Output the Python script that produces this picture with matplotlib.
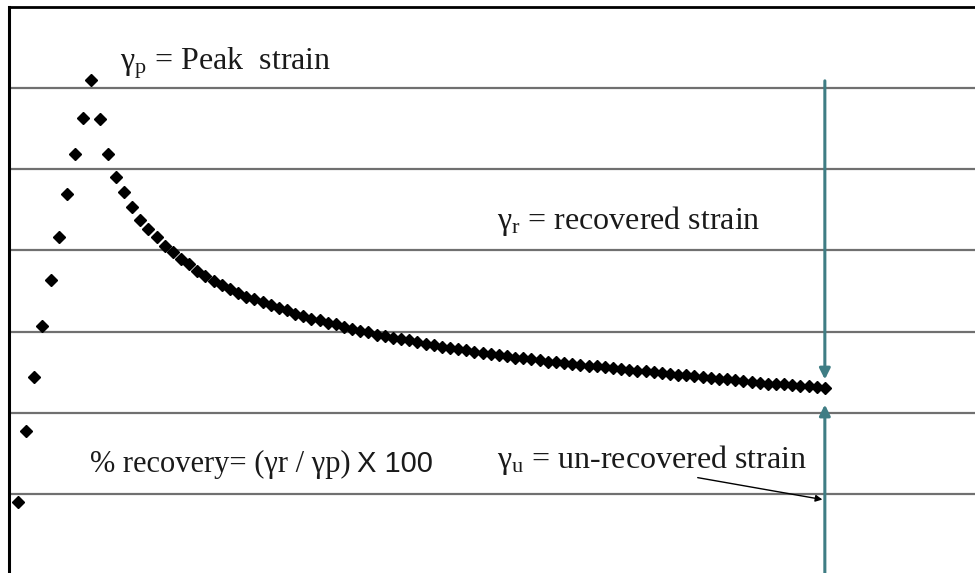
import matplotlib
matplotlib.use("Agg")
import matplotlib.pyplot as plt

plt.rcParams['mathtext.fontset'] = 'custom'
plt.rcParams['mathtext.rm'] = 'Liberation Serif'
plt.rcParams['mathtext.it'] = 'Liberation Serif:italic'

# strain readings, one per time step
strain = [-0.10, 0.77, 1.44, 2.07, 2.64, 3.17, 3.70, 4.19, 4.63, 5.10,
          4.62, 4.19, 3.90, 3.72, 3.54, 3.38, 3.27, 3.16, 3.06, 2.98,
          2.90, 2.83, 2.75, 2.68, 2.62, 2.57, 2.52, 2.48, 2.43, 2.40,
          2.36, 2.33, 2.29, 2.26, 2.22, 2.19, 2.16, 2.14, 2.11, 2.09,
          2.06, 2.03, 2.01, 1.99, 1.96, 1.94, 1.92, 1.91, 1.89, 1.87,
          1.85, 1.83, 1.81, 1.80, 1.78, 1.77, 1.75, 1.74, 1.72, 1.71,
          1.70, 1.68, 1.67, 1.66, 1.65, 1.63, 1.62, 1.61, 1.60, 1.59,
          1.58, 1.57, 1.56, 1.55, 1.54, 1.53, 1.52, 1.51, 1.50, 1.49,
          1.48, 1.47, 1.46, 1.45, 1.44, 1.43, 1.42, 1.41, 1.40, 1.39,
          1.38, 1.37, 1.36, 1.36, 1.35, 1.34, 1.33, 1.33, 1.32, 1.31]
time = list(range(len(strain)))
grid_levels = [0, 1, 2, 3, 4, 5]

teal = '#3f7d84'
serif = 'Liberation Serif'

fig = plt.figure(figsize=(9.75, 5.73), dpi=100)
ax = fig.add_axes([9 / 975, 0, 966 / 975, 566 / 573])

# x: first point at px 18, spacing ~8.15 px; y: grid every 81 px
ax.set_xlim(-(18 - 9) / 8.15, (975 - 18) / 8.15)
ax.set_ylim(-79 / 81, 6.0)

for g in grid_levels:
    ax.axhline(g, color='#707070', lw=1.6, zorder=1)

ax.plot(time, strain, 'D', color='black', markersize=5.8, zorder=3)

# recovered / un-recovered arrows at the last sample
xe = time[-1]
ax.annotate('', xy=(xe, strain[-1] + 0.10), xytext=(xe, 5.09),
            arrowprops=dict(arrowstyle='-|>', color=teal, lw=2.2,
                            mutation_scale=16, shrinkA=0, shrinkB=0))
ax.annotate('', xy=(xe, strain[-1] - 0.21), xytext=(xe, -0.98),
            arrowprops=dict(arrowstyle='-|>', color=teal, lw=2.2,
                            mutation_scale=16, shrinkA=0, shrinkB=0))
ax.annotate('', xy=(xe - 0.3, -0.07), xytext=(83.4, 0.20),
            arrowprops=dict(arrowstyle='-|>', color='black', lw=1.0,
                            mutation_scale=10, shrinkA=0, shrinkB=0))

fs = 23
tc = '#1a1a1a'
ax.text(12.5, 5.23, r'γ$_\mathrm{p}$ = Peak  strain', family=serif,
        fontsize=fs, color=tc, va='baseline')
ax.text(58.8, 3.26, r'γ$_\mathrm{r}$ = recovered strain', family=serif,
        fontsize=fs, color=tc, va='baseline')
ax.text(58.8, 0.32, r'γ$_\mathrm{u}$ = un-recovered strain', family=serif,
        fontsize=fs, color=tc, va='baseline')
ax.text(8.8, 0.27, '% recovery= (γr / γp)', family=serif,
        fontsize=fs - 1, color=tc, va='baseline')
ax.text(41.6, 0.27, 'X 100', family='Liberation Sans',
        fontsize=fs - 2, color=tc, va='baseline')

ax.set_xticks([])
ax.set_yticks([])
ax.spines['right'].set_visible(False)
ax.spines['bottom'].set_visible(False)
ax.spines['left'].set_linewidth(2.2)
ax.spines['top'].set_linewidth(2.0)

fig.savefig('out.png', dpi=100, facecolor='white')
